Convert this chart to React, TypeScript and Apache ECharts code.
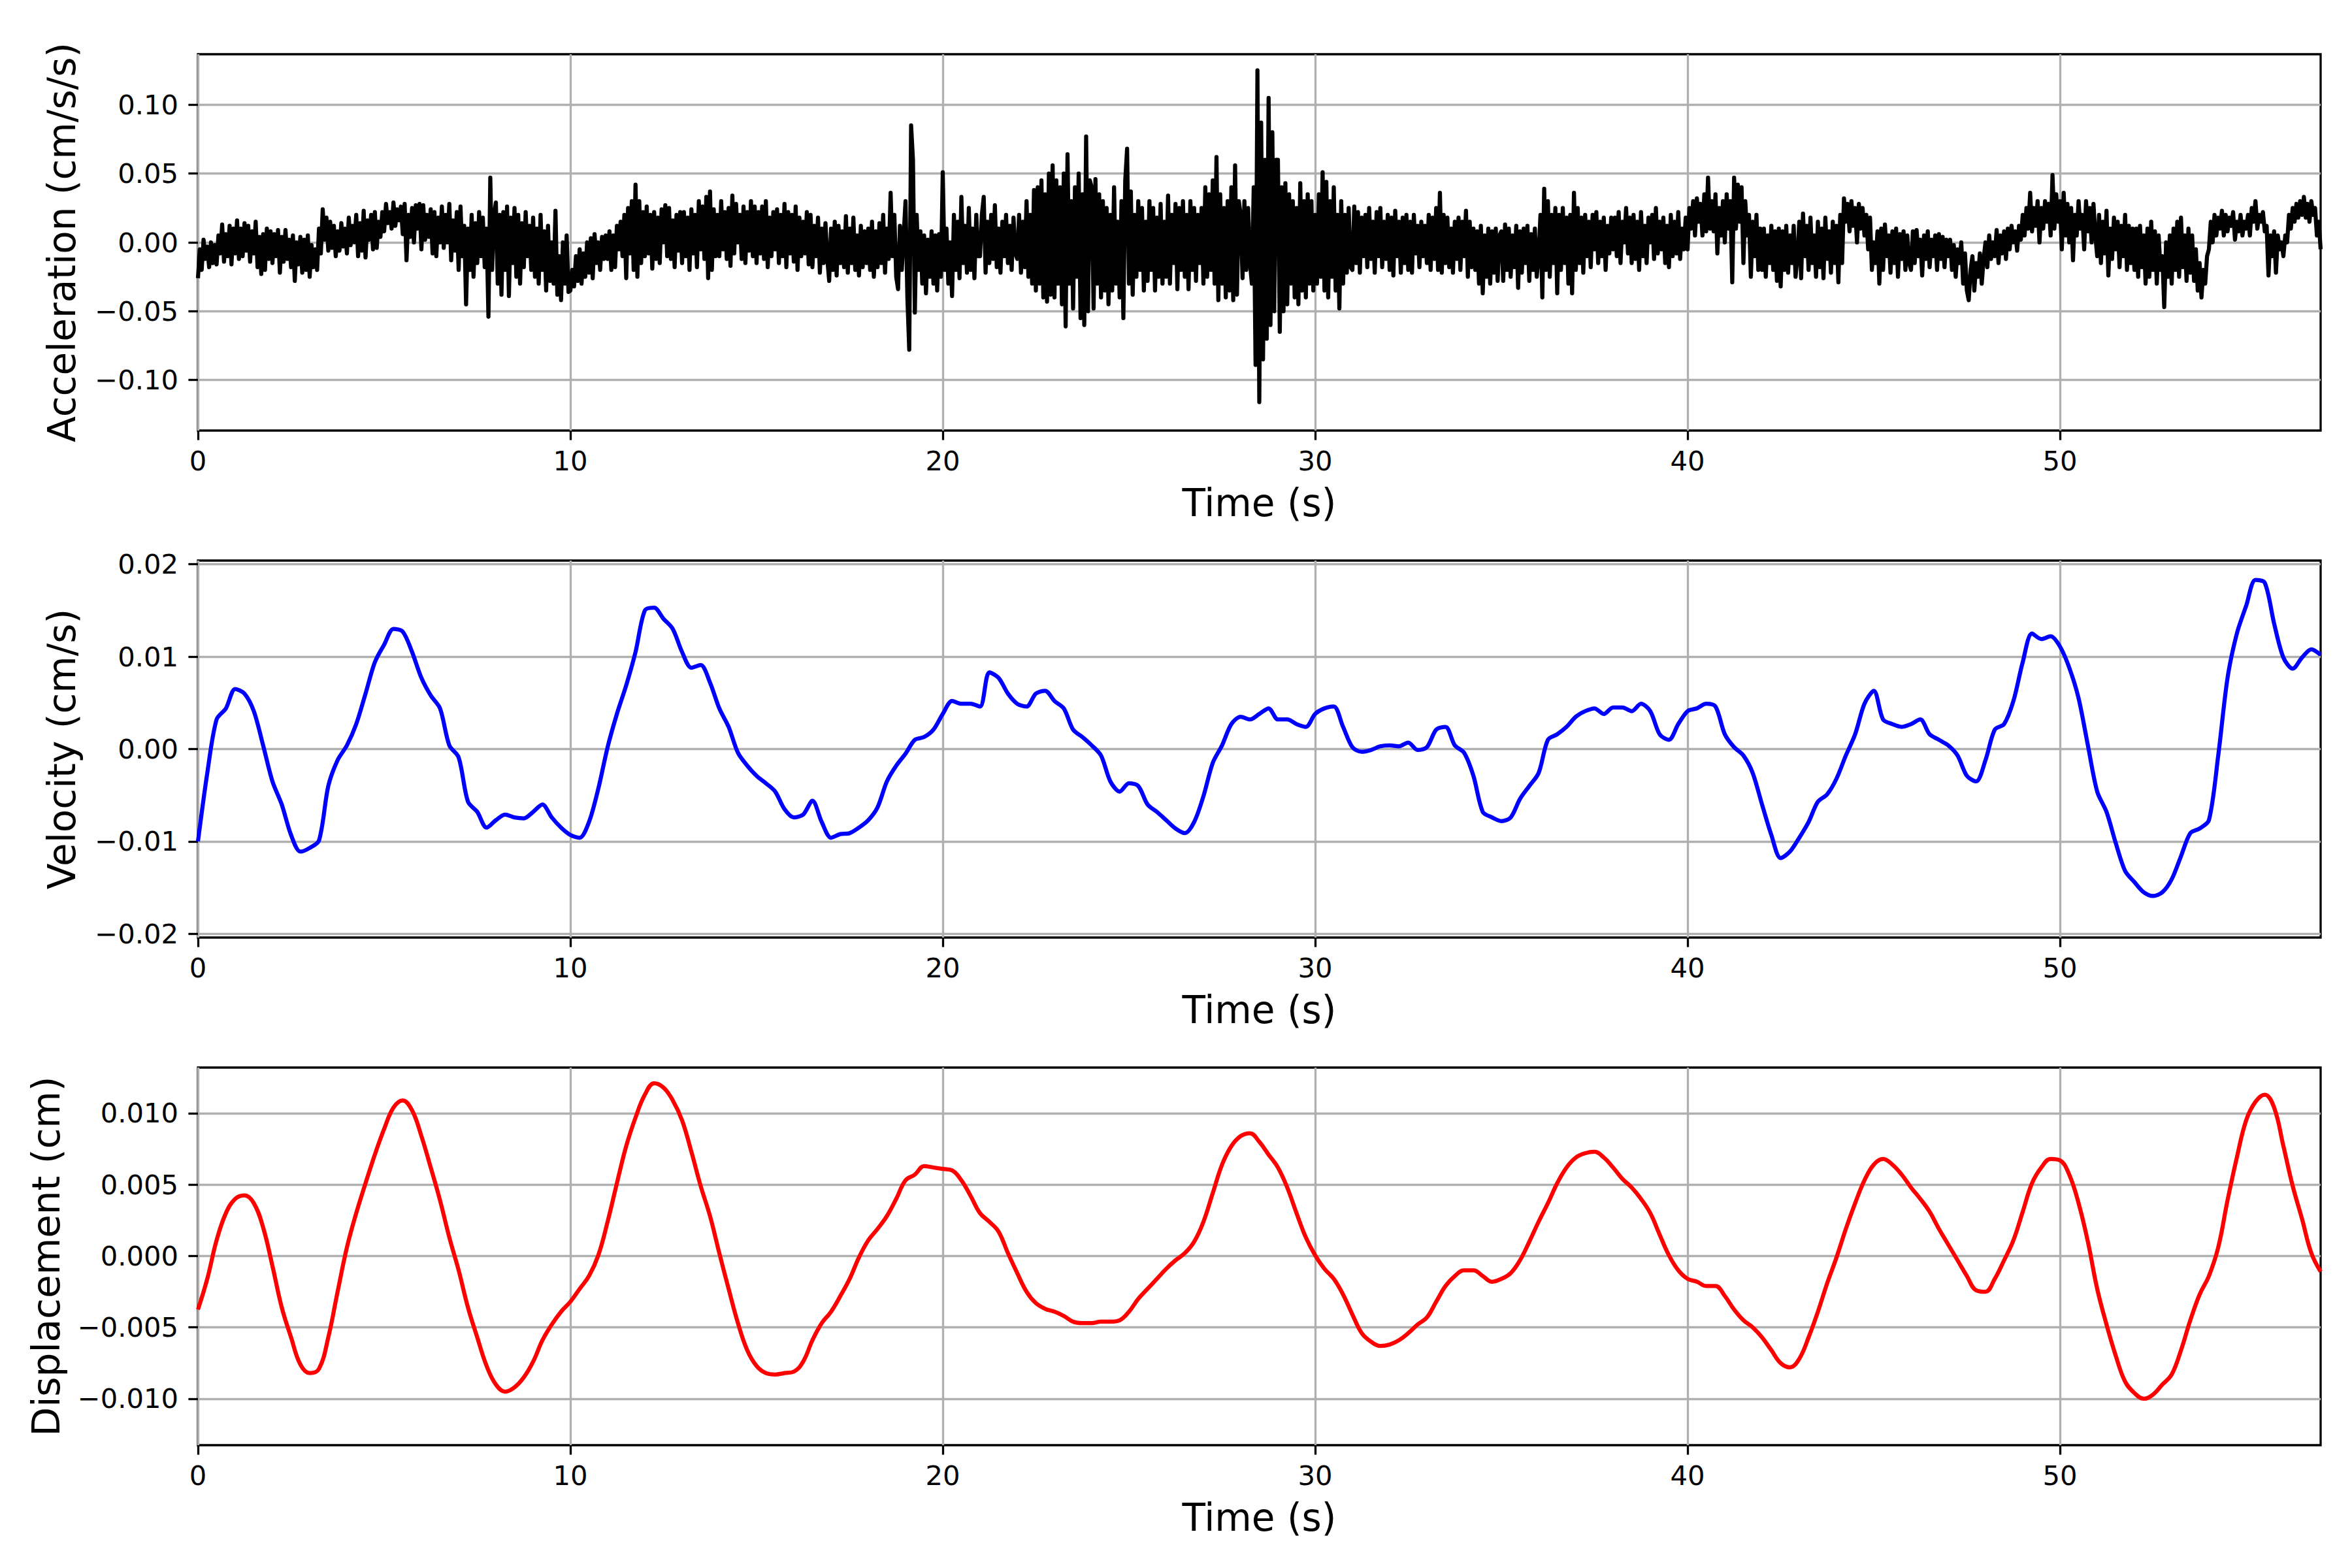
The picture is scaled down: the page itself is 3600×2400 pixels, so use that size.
import React, { useEffect, useRef } from 'react';
import * as echarts from 'echarts';

// time axis
const timeMax = 57.0;
const timeTicks = [0, 10, 20, 30, 40, 50];

// y tick values of the three panels
const accTicks = [-0.1, -0.05, 0, 0.05, 0.1];
const velTicks = [-0.02, -0.01, 0, 0.01, 0.02];
const dispTicks = [-0.01, -0.005, 0, 0.005, 0.01];

// acceleration in 1e-3 cm/s/s, one value every 0.05 s (one row per second)
const accStep = 0.05;
const accMilli = [
    -26, -5, -20, 2, -12, -3, -18, 0, -15, -2, -16, 5, -8, 13, -14, 6, -10, 12, -16, 10,
    -8, 16, -12, 10, -10, 14, -6, 12, -14, 8, -8, 15, -18, 4, -23, 6, -20, 10, -12, 8,
    -15, 6, -10, 9, -22, 4, -14, 9, -12, 2, -18, 5, -28, 0, -16, 4, -22, 2, -20, 5,
    -25, -2, -18, -5, -20, 10, -8, 24, 2, 18, -6, 15, -4, 12, -10, 8, -6, 14, -3, 10,
    -8, 18, -2, 12, 0, 20, -10, 14, -6, 23, -11, 16, 2, 20, -5, 22, -4, 15, 4, 22,
    8, 28, 14, 22, 10, 29, 12, 24, 16, 26, 6, 28, -13, 20, 4, 25, 0, 27, 10, 28,
    -5, 27, 2, 20, 4, 24, -8, 22, -10, 18, 0, 26, -4, 20, 0, 28, -13, 16, -6, 22,
    -20, 26, -10, 12, -45, 10, -20, 20, -25, 14, -15, 22, -10, 18, -18, 10, -54, 47, -20, 20,
    29, -30, 20, -38, 22, -20, 26, -39, 18, -15, 25, -25, 20, -30, 14, -18, 22, -10, 12, -20,
    18, -25, 10, -30, 20, -20, 8, -35, 12, -28, 0, -30, 23, -38, -10, -42, 0, -30, 5, -36,
    -35, -20, -32, -10, -28, -5, -30, -8, -25, 0, -22, 3, -26, 6, -15, 0, -20, 4, -12, 5,
    -12, 8, -20, 5, -18, 12, -5, 15, -10, 20, -26, 25, -8, 30, -20, 42, -25, 30, -15, 22,
    -10, 26, -8, 20, -19, 22, -12, 18, -15, 24, 0, 27, -10, 25, -12, 16, -18, 20, -6, 22,
    -15, 22, -10, 18, -20, 24, -8, 20, -18, 30, -5, 26, -12, 33, -26, 37, -20, 24, -10, 20,
    -10, 30, -5, 22, -12, 25, -17, 34, -8, 28, 0, 20, -12, 26, -15, 22, -6, 30, -10, 26,
    -15, 22, -8, 26, -12, 30, -18, 18, -10, 22, -5, 24, -15, 20, -10, 28, -18, 22, -8, 20,
    -14, 26, -20, 18, -10, 15, -8, 22, -16, 20, -18, 12, -10, 18, -22, 10, -15, 14, -12, -28,
    10, -20, 15, -24, 12, -15, 8, -18, 19, -22, 10, -15, 18, -20, 5, -24, 12, -18, 8, -15,
    10, -20, 15, -25, 8, -18, 14, -15, 20, -22, 10, -12, 36, -10, 20, -25, -34, 12, -20, 5,
    30, -40, -78, 85, 60, -51, 20, -20, 8, -30, 5, -37, 2, -25, 8, -30, 5, -35, 6, -25,
    51, -20, 10, -30, 0, -39, 20, -20, 15, -26, 33, -15, 12, -22, 25, -20, 10, -26, 20, -10,
    -10, 20, 33, -22, 15, -15, 20, -12, 27, -18, 10, -22, 15, -10, 20, -15, 12, -20, 18, -8,
    -12, 20, -22, 15, -18, 30, -25, 20, -30, 38, -35, 40, -30, 45, -40, 35, -43, 50, -38, 56,
    -40, 45, -30, 40, -45, 50, -61, 64, -30, 30, -48, 40, -25, 50, -55, 35, -60, 77, -50, 45,
    40, -48, 46, -30, 35, -40, 30, -35, 25, -45, 20, -35, 40, -30, 15, -40, 30, -55, 45, 68,
    -30, 37, -38, 20, -25, 30, -20, 25, -35, 15, -28, 30, -20, 25, -35, 18, -25, 28, -30, 15,
    -25, 34, -30, 20, -15, 28, -34, 25, -20, 30, -25, 20, -34, 30, -20, 25, -28, 20, -15, 25,
    -30, 40, -25, 35, -20, 45, -30, 62, -42, 35, -30, 25, -40, 30, -35, 40, -42, 56, -38, 30,
    20, -26, 30, -20, 25, -15, -30, 40, -89, 125, -116, 87, -85, 60, -70, 105, -60, 80, -50, 60,
    60, -65, 40, -50, 43, -45, 35, -30, 30, -40, 25, -45, 43, -35, 30, -40, 35, -30, 30, -35,
    20, -30, 35, -25, 51, -35, 44, -40, 30, -25, 40, -35, 20, -48, 30, -30, 20, -22, 25, -18,
    -20, 26, -15, 22, -22, 18, -10, 20, -18, 25, -12, 15, -22, 22, -10, 25, -18, 15, -12, 20,
    -20, 18, -24, 23, -10, 15, -22, 18, -15, 20, -20, 15, -22, 20, -8, 12, -18, 15, -10, 12,
    -15, 20, -20, 18, -12, 25, -20, 36, -22, 20, -15, 18, -18, 10, -22, 15, -12, 18, -20, 15,
    -10, 23, -25, 15, -18, 10, -20, 8, -30, 12, -37, 5, -25, 10, -30, 8, -22, 10, -28, 5,
    8, -28, 13, -20, 10, -25, 5, -18, 12, -33, 8, -22, 10, -15, 12, -28, 6, -20, 10, -25,
    -10, 20, -40, 39, -20, 30, -25, 20, -15, 25, -37, 20, -20, 25, -15, 18, -30, 20, -37, 36,
    -20, 25, -15, 18, -22, 20, -10, 15, -18, 20, -5, 22, -15, 15, -10, 18, -20, 12, -8, 18,
    -5, 18, -10, 22, -15, 15, 0, 25, -8, 18, -15, 20, -12, 15, -20, 22, -10, 12, -15, 18,
    0, 20, -12, 25, -8, 15, -5, 18, -15, 12, -18, 20, -10, 15, -8, 22, -12, 10, -5, 18,
    -5, 25, 10, 30, 5, 32, 15, 28, 5, 35, 8, 47, 10, 30, 8, 35, -8, 25, 5, 30,
    0, 35, 10, 30, -29, 47, 10, 42, 15, 40, -15, 30, 5, 20, -25, 15, -10, 20, -20, 10,
    -20, 10, -25, 5, -15, 12, -20, 8, -28, 10, -32, 8, -20, 12, -22, 5, -15, 12, -25, -10,
    15, -26, 21, -10, 12, -20, 18, -15, 5, -25, 15, -18, 10, -26, 18, -12, 8, -22, 15, -15,
    12, -29, 20, -15, 32, 15, 28, 8, 30, 12, 25, 0, 28, 10, 25, 5, 20, -5, 18, -20,
    0, -15, 8, -30, 10, -20, 13, -10, 5, -22, 8, -15, 10, -25, 6, -12, 8, -20, 5, -15,
    -20, 8, -15, 9, -10, 2, -24, 5, -12, 8, -18, 2, -10, 5, -20, 6, -12, 4, -18, 2,
    -10, 2, -20, -2, -25, -5, -15, 0, -30, -8, -35, -42, -20, -10, -35, -15, -25, -8, -30, -12,
    0, -18, 5, -12, 0, -10, 9, -15, 5, -8, 8, -12, 10, -5, 12, 0, 8, -6, 12, 2,
    20, 5, 25, 10, 36, 8, 25, 12, 30, 0, 25, 10, 30, 15, 28, 5, 49, 10, 35, 15,
    30, -5, 36, 5, 28, 0, 25, -13, 20, 5, 30, 10, 20, -5, 30, 8, 25, 0, 28, 5,
    -10, 20, -15, 15, -8, 23, -24, 10, -12, 18, -5, 15, -18, 12, -10, 20, -20, 12, -15, 10,
    -20, 10, -25, 12, -18, 5, -30, 10, -25, 15, -20, 8, -30, 5, -20, -10, -47, 0, -25, 5,
    -30, 10, -20, 15, -25, 18, -18, 5, -28, 10, -22, 5, -28, -5, -35, -15, -40, -20, -30, -10,
    -5, 15, 0, 20, 5, 18, 10, 23, 5, 20, 8, 18, 12, 22, 2, 15, 8, 20, 5, 15,
    10, 20, 5, 25, 15, 30, 10, 20, 15, 22, 8, 12, -24, 5, -10, 8, -22, 5, -5, 0,
    -10, 5, 0, 20, 10, 25, 15, 28, 18, 30, 20, 33, 18, 28, 15, 30, 20, 25, 5, 15,
    -5,
];

// velocity in 1e-3 cm/s, one value every 0.25 s (one row per second)
const velStep = 0.25;
const velMilli = [
    -10.0, -2.6, 3.2, 4.4,
    6.5, 6.0, 4.1, 0.4,
    -3.5, -6.0, -9.3, -11.1,
    -10.7, -9.9, -4.0, -1.2,
    0.4, 2.7, 6.0, 9.4,
    11.3, 13.0, 12.7, 10.5,
    7.7, 5.8, 4.4, 0.4,
    -0.9, -5.7, -6.8, -8.5,
    -7.7, -7.1, -7.4, -7.5,
    -6.8, -6.0, -7.4, -8.5,
    -9.3, -9.6, -7.9, -4.3,
    0.2, 3.8, 6.9, 10.5,
    15.0, 15.3, 14.1, 13.0,
    10.5, 8.8, 9.1, 7.2,
    4.4, 2.4, -0.4, -1.8,
    -2.9, -3.7, -4.6, -6.5,
    -7.4, -7.1, -5.6, -7.9,
    -9.6, -9.2, -9.1, -8.5,
    -7.7, -6.3, -3.5, -1.8,
    -0.5, 1.0, 1.3, 2.1,
    3.8, 5.2, 4.9, 4.9,
    4.6, 8.3, 7.7, 6.0,
    4.9, 4.6, 6.0, 6.3,
    5.2, 4.4, 2.1, 1.3,
    0.4, -0.7, -3.5, -4.6,
    -3.7, -4.0, -6.0, -6.8,
    -7.7, -8.6, -9.1, -7.9,
    -5.1, -1.5, 0.4, 2.7,
    3.5, 3.2, 3.8, 4.4,
    3.2, 3.2, 2.7, 2.4,
    3.8, 4.4, 4.6, 2.4,
    0.2, -0.3, -0.1, 0.3,
    0.4, 0.3, 0.7, -0.1,
    0.2, 2.1, 2.4, 0.4,
    -0.4, -2.9, -6.8, -7.4,
    -7.8, -7.4, -5.4, -4.0,
    -2.6, 1.0, 1.6, 2.4,
    3.5, 4.1, 4.4, 3.8,
    4.5, 4.5, 4.1, 4.9,
    4.1, 1.6, 1.0, 2.7,
    4.1, 4.4, 4.9, 4.6,
    1.6, 0.2, -0.7, -2.6,
    -6.0, -9.3, -11.8, -11.1,
    -9.6, -7.9, -5.7, -4.9,
    -3.2, -0.7, 1.6, 4.9,
    6.3, 3.2, 2.7, 2.4,
    2.7, 3.2, 1.6, 1.0,
    0.4, -0.7, -2.9, -3.5,
    -1.2, 2.1, 2.7, 5.2,
    9.4, 12.5, 11.9, 12.2,
    11.1, 8.8, 5.5, 0.4,
    -4.6, -6.8, -10.2, -13.2,
    -14.4, -15.5, -15.9, -15.5,
    -14.1, -11.6, -9.1, -8.6,
    -7.7, -0.7, 7.7, 12.5,
    15.5, 18.3, 18.0, 13.6,
    9.9, 8.7, 9.9, 10.8,
    10.2,
];

// displacement in 1e-3 cm, one value every 0.25 s (one row per second)
const dispStep = 0.25;
const dispMilli = [
    -3.75, -1.6, 1.1, 3.0,
    4.0, 4.25, 3.7, 2.0,
    -0.7, -3.6, -5.7, -7.6,
    -8.2, -7.9, -5.7, -2.5,
    0.6, 3.0, 5.1, 7.1,
    8.9, 10.4, 10.9, 10.2,
    8.4, 6.2, 3.9, 1.3,
    -1.0, -3.6, -5.7, -7.7,
    -9.0, -9.5, -9.2, -8.5,
    -7.4, -5.9, -4.8, -3.9,
    -3.2, -2.3, -1.4, 0.05,
    2.4, 5.1, 7.7, 9.7,
    11.3, 12.1, 11.8, 10.9,
    9.5, 7.3, 4.9, 2.8,
    0.2, -2.3, -4.7, -6.6,
    -7.7, -8.2, -8.3, -8.2,
    -8.1, -7.4, -5.9, -4.7,
    -3.9, -2.8, -1.6, -0.1,
    1.1, 1.9, 2.8, 4.0,
    5.3, 5.7, 6.3, 6.2,
    6.1, 6.0, 5.3, 4.2,
    3.0, 2.4, 1.7, 0.2,
    -1.2, -2.5, -3.3, -3.7,
    -3.9, -4.2, -4.6, -4.7,
    -4.7, -4.6, -4.6, -4.5,
    -3.9, -3.0, -2.3, -1.6,
    -0.9, -0.3, 0.2, 1.0,
    2.4, 4.4, 6.4, 7.7,
    8.4, 8.6, 8.0, 7.1,
    6.2, 4.8, 3.0, 1.3,
    0.05, -0.9, -1.6, -2.7,
    -4.1, -5.4, -6.0, -6.3,
    -6.2, -5.9, -5.4, -4.8,
    -4.3, -3.2, -2.1, -1.4,
    -1.0, -1.0, -1.4, -1.8,
    -1.6, -1.2, -0.3, 1.0,
    2.4, 3.7, 5.1, 6.2,
    6.9, 7.2, 7.3, 6.9,
    6.2, 5.4, 4.8, 4.0,
    3.0, 1.5, 0.05, -1.0,
    -1.6, -1.8, -2.1, -2.1,
    -2.8, -3.75, -4.5, -5.0,
    -5.7, -6.6, -7.5, -7.8,
    -7.2, -5.7, -3.9, -1.9,
    -0.1, 1.9, 3.7, 5.3,
    6.4, 6.8, 6.4, 5.7,
    4.8, 4.0, 3.1, 1.9,
    0.8, -0.3, -1.4, -2.4,
    -2.5, -1.6, -0.3, 1.1,
    3.1, 5.1, 6.2, 6.8,
    6.7, 5.7, 3.7, 1.0,
    -2.3, -4.8, -7.0, -8.8,
    -9.6, -10.0, -9.7, -9.0,
    -8.3, -6.6, -4.5, -2.7,
    -1.4, 0.6, 3.9, 6.9,
    9.5, 10.8, 11.3, 10.4,
    7.7, 4.9, 2.6, 0.2,
    -1.1,
];

const font = "'DejaVu Sans', sans-serif";

const toSeries = (values: number[], step: number) =>
    values.map((v, i) => [Number((i * step).toFixed(3)), v / 1000]);

const tickText = (digits: number) => (v: number) => {
    const s = Math.abs(v).toFixed(digits);
    return v < 0 ? '\u2212' + s : s;
};

const panels = [
    {
        top: 83, height: 576, min: -0.1367, max: 0.1367, ticks: accTicks, digits: 2,
        name: 'Acceleration (cm/s/s)', nameGap: 179, color: '#000000',
        data: toSeries(accMilli, accStep), smooth: false,
    },
    {
        top: 858, height: 577, min: -0.0204, max: 0.0204, ticks: velTicks, digits: 2,
        name: 'Velocity (cm/s)', nameGap: 179, color: '#0000ff',
        data: toSeries(velMilli, velStep), smooth: 0.3,
    },
    {
        top: 1634, height: 578, min: -0.01325, max: 0.0132, ticks: dispTicks, digits: 3,
        name: 'Displacement (cm)', nameGap: 203, color: '#ff0000',
        data: toSeries(dispMilli, dispStep), smooth: 0.4,
    },
];

export default function App() {
    const chartRef = useRef<HTMLDivElement | null>(null);

    useEffect(() => {
        document.body.style.margin = '0';
        if (!chartRef.current) return;
        const chart = echarts.init(chartRef.current, null, { renderer: 'svg' });

        const tickStyle = { color: '#000', width: 3.3 };
        const gridStyle = { color: '#b0b0b0', width: 3.3 };

        const option = {
            animation: false,
            backgroundColor: '#ffffff',
            grid: panels.map(p => ({
                left: 303,
                right: 48,
                top: p.top,
                height: p.height,
                show: true,
                borderColor: '#000',
                borderWidth: 3.3,
                backgroundColor: 'transparent',
                containLabel: false,
                outerBoundsMode: 'none',
            })),
            xAxis: panels.map((p, i) => ({
                type: 'value',
                gridIndex: i,
                min: 0,
                max: timeMax,
                name: 'Time (s)',
                nameLocation: 'middle',
                nameGap: 82,
                nameTextStyle: { fontFamily: font, fontSize: 58, color: '#000' },
                axisLine: { show: false, onZero: false },
                axisTick: { show: true, inside: false, length: 14.6, lineStyle: tickStyle, customValues: timeTicks },
                axisLabel: { customValues: timeTicks, margin: 25, fontFamily: font, fontSize: 41.7, color: '#000' },
                splitLine: { show: true, lineStyle: gridStyle },
            })),
            yAxis: panels.map((p, i) => ({
                type: 'value',
                gridIndex: i,
                min: p.min,
                max: p.max,
                name: p.name,
                nameLocation: 'middle',
                nameGap: p.nameGap,
                nameTextStyle: { fontFamily: font, fontSize: 58, color: '#000' },
                axisLine: { show: false, onZero: false },
                axisTick: { show: true, inside: false, length: 14.6, lineStyle: tickStyle, customValues: p.ticks },
                axisLabel: {
                    customValues: p.ticks,
                    margin: 30,
                    fontFamily: font,
                    fontSize: 41.7,
                    color: '#000',
                    formatter: tickText(p.digits),
                },
                splitLine: { show: true, lineStyle: gridStyle },
            })),
            series: panels.map((p, i) => ({
                type: 'line',
                xAxisIndex: i,
                yAxisIndex: i,
                data: p.data,
                showSymbol: false,
                symbol: 'none',
                smooth: p.smooth,
                sampling: 'none',
                lineStyle: { color: p.color, width: 6.25, join: 'round' },
                emphasis: { disabled: true },
                silent: true,
            })),
        };

        chart.setOption(option);

        return () => {
            chart.dispose();
        };
    }, []);

    return <div ref={chartRef} style={{ width: '3600px', height: '2400px' }} />;
}
